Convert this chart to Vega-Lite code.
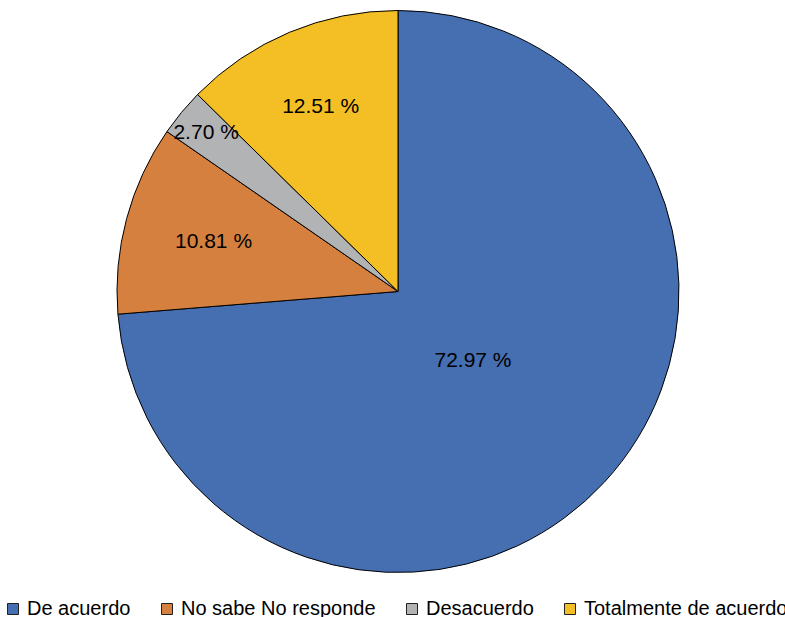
{
  "$schema": "https://vega.github.io/schema/vega-lite/v6.json",
  "autosize": {"type": "none"},
  "width": 770,
  "height": 583,
  "padding": {"left": 13, "top": 0, "right": 2, "bottom": 34},
  "background": "white",
  "config": {"view": {"stroke": null}, "font": "Liberation Sans"},
  "data": {
    "values": [
      {"cat": "De acuerdo", "value": 72.97, "label": "72.97 %", "rank": 1},
      {"cat": "No sabe No responde", "value": 10.81, "label": "10.81 %", "rank": 2},
      {"cat": "Desacuerdo", "value": 2.70, "label": "2.70 %", "rank": 3},
      {"cat": "Totalmente de acuerdo", "value": 12.51, "label": "12.51 %", "rank": 4}
    ]
  },
  "encoding": {
    "theta": {"field": "value", "type": "quantitative", "stack": true},
    "order": {"field": "rank", "type": "quantitative"}
  },
  "layer": [
    {
      "mark": {"type": "arc", "radius": 281, "stroke": "#000000", "strokeWidth": 1},
      "encoding": {
        "color": {
          "field": "cat",
          "type": "nominal",
          "scale": {
            "domain": ["De acuerdo", "No sabe No responde", "Desacuerdo", "Totalmente de acuerdo"],
            "range": ["#466FB2", "#D6803F", "#B2B3B5", "#F3BF24"]
          },
          "legend": {
            "title": null,
            "orient": "none",
            "direction": "horizontal",
            "legendX": -10,
            "legendY": 599,
            "symbolType": "square",
            "symbolSize": 121,
            "symbolStrokeColor": "#222222",
            "symbolStrokeWidth": 1,
            "symbolOpacity": 1,
            "labelFont": "Liberation Sans",
            "labelFontSize": 20,
            "labelColor": "#000000",
            "labelOffset": 4,
            "labelLimit": 0,
            "columnPadding": 26,
            "padding": 0
          }
        }
      }
    },
    {
      "mark": {"type": "text", "radius": 102, "fontSize": 21, "font": "Liberation Sans", "color": "#000000", "align": "center", "baseline": "middle"},
      "encoding": {"text": {"condition": {"test": "datum.rank === 1", "field": "label"}, "value": ""}}
    },
    {
      "mark": {"type": "text", "radius": 191, "fontSize": 21, "font": "Liberation Sans", "color": "#000000", "align": "center", "baseline": "middle"},
      "encoding": {"text": {"condition": {"test": "datum.rank === 2", "field": "label"}, "value": ""}}
    },
    {
      "mark": {"type": "text", "radius": 249, "fontSize": 21, "font": "Liberation Sans", "color": "#000000", "align": "center", "baseline": "middle"},
      "encoding": {"text": {"condition": {"test": "datum.rank === 3", "field": "label"}, "value": ""}}
    },
    {
      "mark": {"type": "text", "radius": 200, "fontSize": 21, "font": "Liberation Sans", "color": "#000000", "align": "center", "baseline": "middle"},
      "encoding": {"text": {"condition": {"test": "datum.rank === 4", "field": "label"}, "value": ""}}
    }
  ]
}
